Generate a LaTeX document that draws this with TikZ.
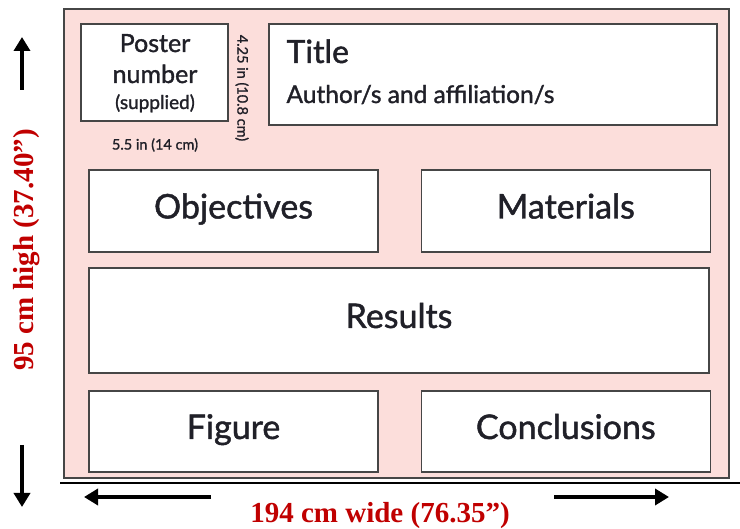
\documentclass[tikz,border=0pt]{standalone}
\usepackage{fontspec}
\setmainfont{Lato}
\newfontfamily\panelfont{Lato}[FakeBold=1.3]
\newfontfamily\dimfont{Liberation Serif}
\usepackage{xcolor}
\usetikzlibrary{
	positioning,
	arrows.meta
}
\definecolor{posterpink}{RGB}{252,222,219}
\definecolor{boxline}{RGB}{70,70,70}
\definecolor{dimred}{RGB}{192,0,0}
\definecolor{boxtext}{RGB}{32,32,40}

\tikzset{
	panel/.style={draw=boxline,line width=1.3pt,fill=white,inner sep=0pt,
		text height=24pt,text depth=9pt,
		text=boxtext,font=\panelfont\fontsize{34}{38}\selectfont},
	dimarrow/.style={line width=4pt,-{Triangle[length=14pt,width=16pt]}},
	dimtext/.style={text=dimred,font=\dimfont\bfseries\fontsize{29}{32}\selectfont},
	smalltext/.style={text=boxtext,font=\panelfont\fontsize{14.5}{16}\selectfont}
}

\begin{document}
\begin{tikzpicture}[x=1pt,y=-1pt]
	\useasboundingbox (0,0) rectangle (740,529);

	% poster sheet
	\draw[draw=boxline,line width=1.2pt,fill=posterpink] (64,9) rectangle (729,478);
	\draw[line width=2pt] (60,483) -- (740,483);

	% panels
	\node [panel,minimum width=147pt,minimum height=97pt,text height=0pt,text depth=0pt] (number) at (154.5,72.5) {};
	\node [text=boxtext,font=\panelfont\fontsize{25}{28}\selectfont,anchor=base] (poster) at (155,52) {Poster};
	\node [text=boxtext,font=\panelfont\fontsize{25}{28}\selectfont,anchor=base] (numword) at (155,83) {number};
	\node [text=boxtext,font=\panelfont\fontsize{19}{22}\selectfont,anchor=base] (supplied) at (155,109) {(supplied)};
	\node [panel,minimum width=448pt,minimum height=101pt,text height=0pt,text depth=0pt] (title) at (493,74.5) {};
	\node [text=boxtext,anchor=base west,font=\panelfont\fontsize{32}{36}\selectfont] (titletext) at (283,63) {Title};
	\node [text=boxtext,anchor=base west,font=\panelfont\fontsize{24.5}{28}\selectfont] (author) at (283,103) {Author/s and affiliation/s};

	\node [panel,minimum width=289pt,minimum height=82pt] (obj) at (233.5,211) {Objectives};
	\node [panel,minimum width=289pt,minimum height=82pt,right=42pt of obj] (mat) {Materials};
	\node [panel,minimum width=620pt,minimum height=105pt] (res) at (399,320.5) {Results};
	\node [panel,minimum width=289pt,minimum height=81pt] (fig) at (233.5,431.5) {Figure};
	\node [panel,minimum width=289pt,minimum height=81pt,right=42pt of fig] (concl) {Conclusions};

	% sizes of the number box
	\node [smalltext] (numwidth) at (155,145) {5.5 in (14 cm)};
	\node [smalltext,rotate=-90] (numheight) at (242,88) {4.25 in (10.8 cm)};

	% poster dimensions
	\coordinate (uptail)    at (22,90);
	\coordinate (uphead)    at (22,37);
	\coordinate (downtail)  at (22,445);
	\coordinate (downhead)  at (22,507);
	\coordinate (lefttail)  at (211,497);
	\coordinate (lefthead)  at (84,497);
	\coordinate (righttail) at (554,497);
	\coordinate (righthead) at (669,497);
	\draw[dimarrow] (uptail) -- (uphead);
	\draw[dimarrow] (downtail) -- (downhead);
	\draw[dimarrow] (lefttail) -- (lefthead);
	\draw[dimarrow] (righttail) -- (righthead);

	\node [dimtext,rotate=90] (high) at (27,250) {95 cm high (37.40”)};
	\node [dimtext] (wide) at (380,516) {194 cm wide (76.35”)};
\end{tikzpicture}
\end{document}
